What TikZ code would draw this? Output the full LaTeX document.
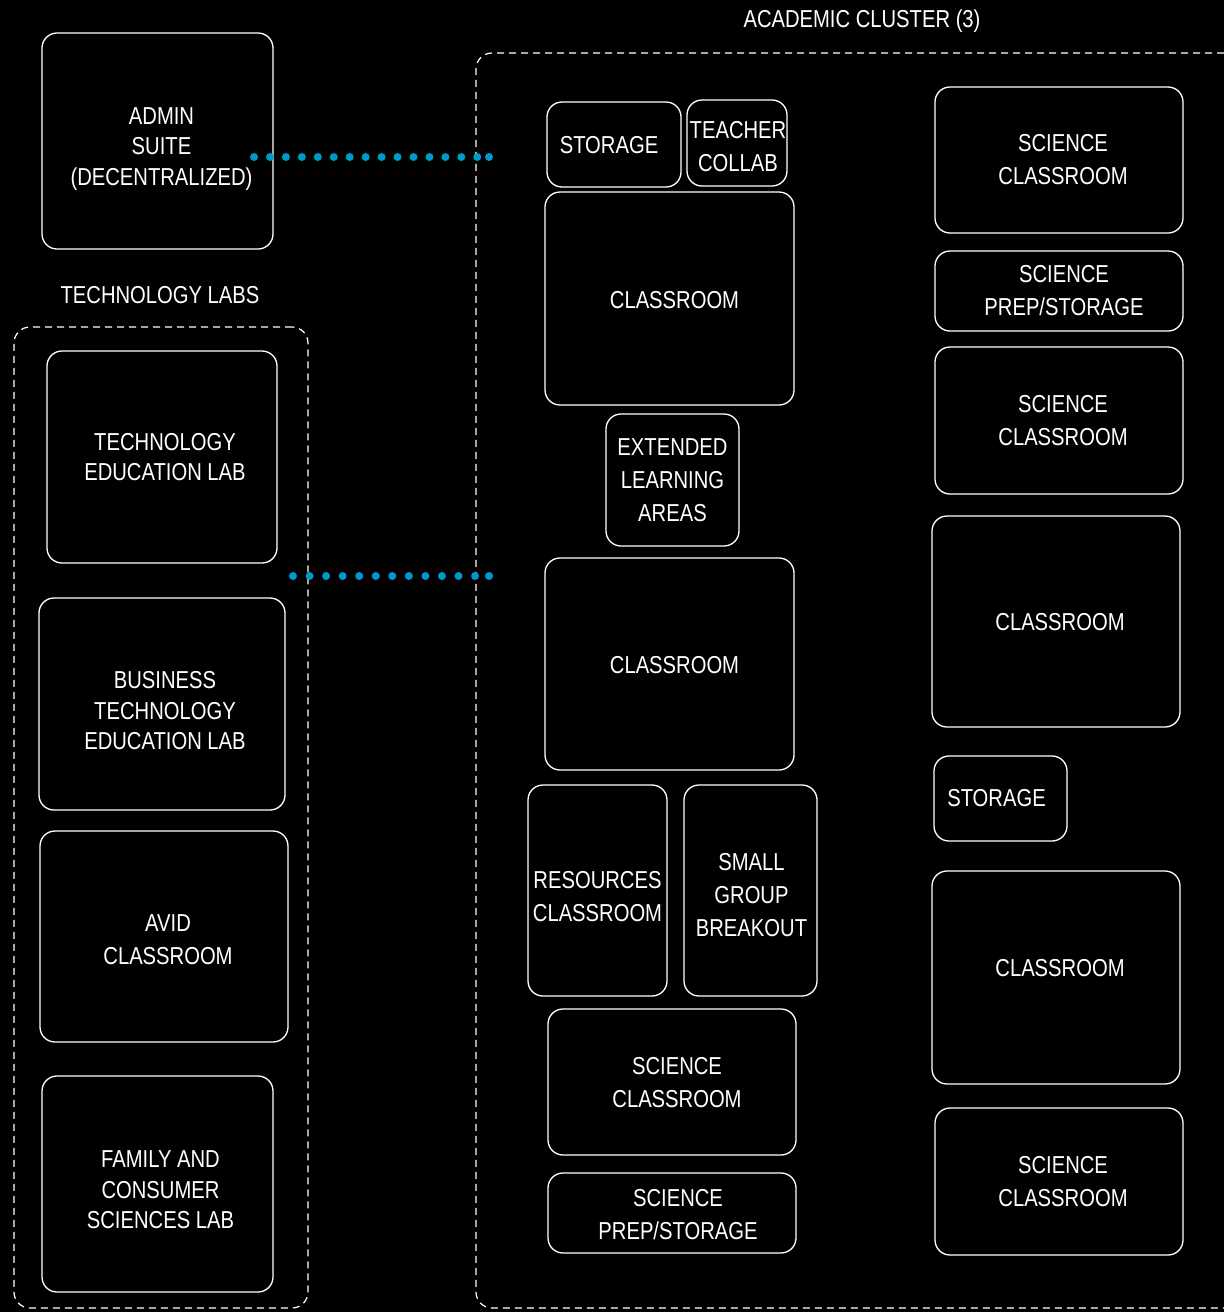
\documentclass[tikz,border=0pt]{standalone}
\usepackage{fontspec}
\setmainfont{Liberation Sans}[FakeStretch=0.825]
\usetikzlibrary{calc}
\definecolor{dotblue}{RGB}{0,153,204}
\begin{document}
\begin{tikzpicture}[x=1pt,y=-1pt,
  room/.style={draw=white, line width=1.3pt, rounded corners=15pt, inner sep=0pt},
  roomtext/.style={text=white, align=center, inner sep=0pt,
    font=\fontsize{24.5}{33}\selectfont},
  tighttext/.style={roomtext, font=\fontsize{24.5}{30.5}\selectfont},
  group/.style={draw=white, line width=1.2pt, dash pattern=on 7pt off 5pt,
    rounded corners=16pt, inner sep=0pt},
  grouptitle/.style={text=white, font=\fontsize{24.5}{33}\selectfont},
  link/.style={draw=dotblue, line width=8pt, line cap=round, dash pattern=on 0pt off #1},
  enddot/.style={fill=dotblue}]
\useasboundingbox (0,0) rectangle (1224,1312);
\fill[black] (0,0) rectangle (1224,1312);
\clip (0,0) rectangle (1224,1312);

% group outlines and titles
\node[group, minimum width=294, minimum height=981] (techlabs) at (161,817.5) {};
\node[group, minimum width=764, minimum height=1255] (academic) at (858,680.5) {};
\node[grouptitle] (techtitle) at (160,295) {TECHNOLOGY LABS};
\node[grouptitle] (acadtitle) at (862,21) {ACADEMIC CLUSTER (3)};

% left column
\node[room, minimum width=231, minimum height=216,
  label={[tighttext, shift={(4,8)}]center:ADMIN\\SUITE\\(DECENTRALIZED)}] (admin) at (157.5,141) {};
\node[room, minimum width=230, minimum height=212,
  label={[tighttext, shift={(3,0)}]center:TECHNOLOGY\\EDUCATION LAB}] (teched) at (162,457) {};
\node[room, minimum width=246, minimum height=212,
  label={[tighttext, shift={(3,7)}]center:BUSINESS\\TECHNOLOGY\\EDUCATION LAB}] (busi) at (162,704) {};
\node[room, minimum width=248, minimum height=211,
  label={[roomtext, shift={(4,3)}]center:AVID\\CLASSROOM}] (avid) at (164,936.5) {};
\node[room, minimum width=231, minimum height=216,
  label={[tighttext, shift={(3,6)}]center:FAMILY AND\\CONSUMER\\SCIENCES LAB}] (family) at (157.5,1184) {};

% academic cluster, inner column
\node[room, minimum width=134, minimum height=85,
  label={[roomtext, shift={(-5,1)}]center:STORAGE}] (storage1) at (614,144.5) {};
\node[room, minimum width=100, minimum height=86,
  label={[roomtext, shift={(1,4)}]center:TEACHER\\COLLAB}] (collab) at (737,143) {};
\node[room, minimum width=249, minimum height=213,
  label={[roomtext, shift={(5,2)}]center:CLASSROOM}] (class1) at (669.5,298.5) {};
\node[room, minimum width=133, minimum height=132,
  label={[roomtext]center:EXTENDED\\LEARNING\\AREAS}] (ela) at (672.5,480) {};
\node[room, minimum width=249, minimum height=212,
  label={[roomtext, shift={(5,1)}]center:CLASSROOM}] (class2) at (669.5,664) {};
\node[room, minimum width=139, minimum height=211,
  label={[roomtext, shift={(0,6)}]center:RESOURCES\\CLASSROOM}] (resources) at (597.5,890.5) {};
\node[room, minimum width=133, minimum height=211,
  label={[roomtext, shift={(1,5)}]center:SMALL\\GROUP\\BREAKOUT}] (breakout) at (750.5,890.5) {};
\node[room, minimum width=248, minimum height=146,
  label={[roomtext, shift={(5,1)}]center:SCIENCE\\CLASSROOM}] (sci1) at (672,1082) {};
\node[room, minimum width=248, minimum height=80,
  label={[roomtext, shift={(6,2)}]center:SCIENCE\\PREP/STORAGE}] (prep1) at (672,1213) {};

% academic cluster, outer column
\node[room, minimum width=248, minimum height=146,
  label={[roomtext, shift={(4,0)}]center:SCIENCE\\CLASSROOM}] (sci2) at (1059,160) {};
\node[room, minimum width=248, minimum height=80,
  label={[roomtext, shift={(5,0)}]center:SCIENCE\\PREP/STORAGE}] (prep2) at (1059,291) {};
\node[room, minimum width=248, minimum height=147,
  label={[roomtext, shift={(4,0)}]center:SCIENCE\\CLASSROOM}] (sci3) at (1059,420.5) {};
\node[room, minimum width=248, minimum height=211,
  label={[roomtext, shift={(4,1)}]center:CLASSROOM}] (class3) at (1056,621.5) {};
\node[room, minimum width=133, minimum height=85,
  label={[roomtext, shift={(-4,0)}]center:STORAGE}] (storage2) at (1000.5,798.5) {};
\node[room, minimum width=248, minimum height=213,
  label={[roomtext, shift={(4,-9)}]center:CLASSROOM}] (class4) at (1056,977.5) {};
\node[room, minimum width=248, minimum height=147,
  label={[roomtext, shift={(4,0)}]center:SCIENCE\\CLASSROOM}] (sci4) at (1059,1181.5) {};

% dotted links into the academic cluster
\coordinate (adminlink) at (254,157);
\coordinate (acadlinkA) at (489,157);
\coordinate (techlink) at (293,576);
\coordinate (acadlinkB) at (489,576);
\draw[link=15.95pt] (adminlink) -- (acadlinkA);
\fill[enddot] (acadlinkA) circle (4pt);
\draw[link=16.55pt] (techlink) -- (acadlinkB);
\fill[enddot] (acadlinkB) circle (4pt);
\end{tikzpicture}
\end{document}
